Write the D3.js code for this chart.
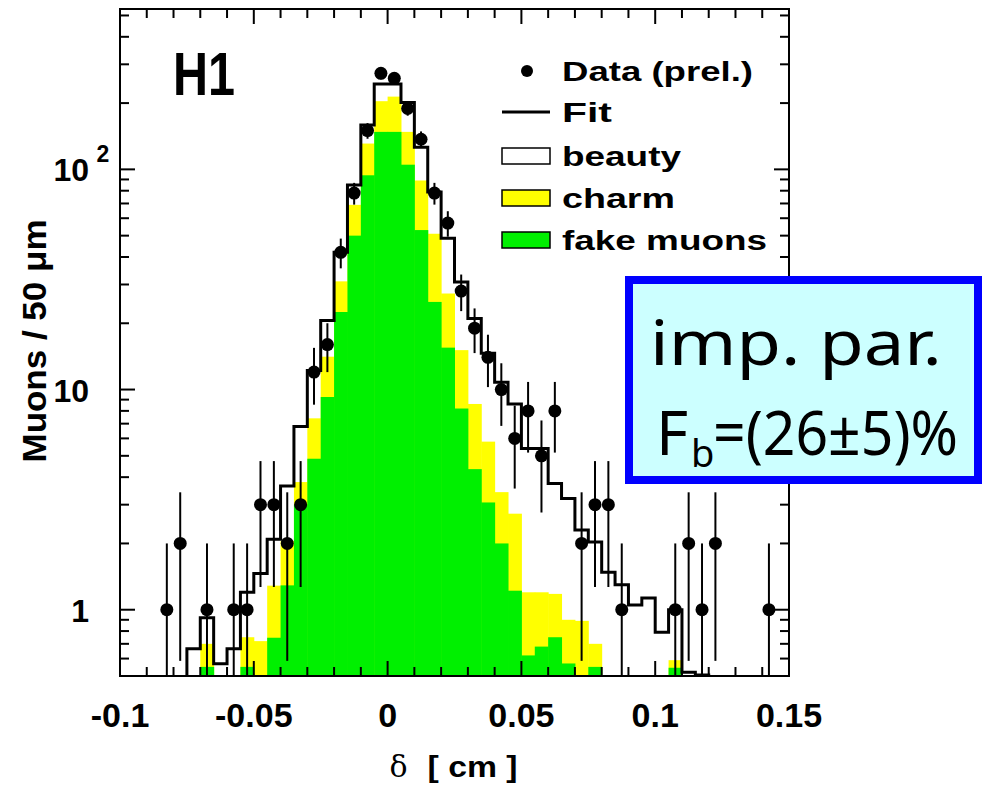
<!DOCTYPE html>
<html>
<head>
<meta charset="utf-8">
<script src="https://cdn.jsdelivr.net/npm/d3@7"></script>
<style>
  body { margin: 0; background: #fff; }
  svg { display: block; }
</style>
</head>
<body>
<div id="my_dataviz"></div>
<script>
// data (impact parameter, muons per 50 um bin)

// data points: bin centres [cm] and counts
var dataX = [-0.0825, -0.0775, -0.0675, -0.0575, -0.0525, -0.0475, -0.0425, -0.0375, -0.0325,
  -0.0275, -0.0225, -0.0175, -0.0125, -0.0075, -0.0025, 0.0025, 0.0075, 0.0125, 0.0175, 0.0225,
  0.0275, 0.0325, 0.0375, 0.0425, 0.0475, 0.0525, 0.0575, 0.0625, 0.0725, 0.0775, 0.0825, 0.0875,
  0.1075, 0.1125, 0.1175, 0.1225, 0.1425];
var dataN = [1, 2, 1, 1, 1, 3, 3, 2, 3,
  12, 16, 42, 78, 150, 273, 259, 189, 137, 78, 57,
  28, 19, 14, 10, 6, 8, 5, 8, 2, 3, 3, 1,
  1, 2, 1, 2, 1];

// histogram bins (low edge, width 0.005 cm)
var binLow = [-0.075, -0.07, -0.065, -0.06, -0.055, -0.05, -0.045, -0.04, -0.035, -0.03,
  -0.025, -0.02, -0.015, -0.01, -0.005, 0, 0.005, 0.01, 0.015, 0.02,
  0.025, 0.03, 0.035, 0.04, 0.045, 0.05, 0.055, 0.06, 0.065, 0.07,
  0.075, 0.08, 0.085, 0.09, 0.095, 0.1, 0.105, 0.11, 0.115];
var binWidth = 0.005;

// fit total (beauty + charm + fake)
var fitTotal = [0.665, 0.92, 0.568, 0.665, 1.2, 1.46, 2.09, 3.65, 6.8, 12.2,
  20.6, 42, 85, 159, 244, 244, 201, 126, 79, 48.6,
  30.8, 21, 14.6, 10.8, 8.6, 5.4, 5.4, 3.74, 3.2, 2.3,
  2.03, 1.48, 1.3, 1.05, 1.13, 0.79, 1.0, 0.52, 0.505];
// fake muons component
var fake = [0, 0.55, 0, 0, 0.55, 0, 0.746, 1.29, 3.0, 4.85,
  9.25, 22.5, 50, 94, 148, 148, 105, 53, 25, 15.5,
  8.2, 4.35, 3.07, 2.0, 1.22, 0.62, 0.68, 0.75, 0.57, 0,
  0.55, 0, 0, 0, 0, 0, 0.545, 0, 0];
// charm component (stacked on fake)
var charm = [0, 0.15, 0, 0, 0.2, 0.72, 0.54, 0.76, 0.8, 2.55,
  4.85, 8.5, 19, 37, 56, 66, 43, 36, 26, 11.8,
  6.9, 4.25, 2.73, 1.42, 1.51, 0.58, 0.52, 0.43, 0.33, 0.89,
  0.15, 0, 0, 0, 0, 0, 0.045, 0, 0];

var xTickLabels = ["-0.1", "-0.05", "0", "0.05", "0.1", "0.15"];
var legendLabels = ["Data (prel.)", "Fit", "beauty", "charm", "fake muons"];

// set the dimensions and margins of the graph
var margin = {top: 9, right: 194, bottom: 110, left: 120},
    width = 983 - margin.left - margin.right,
    height = 786 - margin.top - margin.bottom;

var font = "'Liberation Sans', Arial, Helvetica, sans-serif";

var root = d3.select("#my_dataviz")
  .append("svg")
    .attr("width", 983)
    .attr("height", 786);

var svg = root.append("g")
    .attr("transform", "translate(" + margin.left + "," + margin.top + ")");

var x = d3.scaleLinear()
  .domain([-0.1, 0.15])
  .range([0, width]);

var y = d3.scaleLog()
  .domain([0.5, 535])
  .range([height, 0])
  .clamp(true);

function yv(v) { return y(Math.max(v, 0.5)); }

// stacked fills: yellow = charm + fake, green = fake
var bins = binLow.map(function(lo, i) {
  return {lo: lo, hi: lo + binWidth, fit: fitTotal[i], fake: fake[i], charm: charm[i]};
});

svg.append("g")
  .selectAll("rect.charm")
  .data(bins)
  .enter()
  .append("rect")
    .attr("x", function(d) { return x(d.lo); })
    .attr("width", function(d) { return x(d.hi) - x(d.lo) + 0.5; })
    .attr("y", function(d) { return yv(d.fake + d.charm); })
    .attr("height", function(d) { return height - yv(d.fake + d.charm); })
    .style("fill", "#ffff00");

svg.append("g")
  .selectAll("rect.fake")
  .data(bins)
  .enter()
  .append("rect")
    .attr("x", function(d) { return x(d.lo); })
    .attr("width", function(d) { return x(d.hi) - x(d.lo) + 0.5; })
    .attr("y", function(d) { return yv(d.fake); })
    .attr("height", function(d) { return height - yv(d.fake); })
    .style("fill", "#00f000");

// fit histogram as a step outline
var pts = [[x(bins[0].lo), height]];
bins.forEach(function(d) {
  pts.push([x(d.lo), yv(d.fit)]);
  pts.push([x(d.hi), yv(d.fit)]);
});
pts.push([x(bins[bins.length - 1].hi), height]);

svg.append("path")
  .attr("d", d3.line()(pts))
  .style("fill", "none")
  .style("stroke", "#000")
  .style("stroke-width", 3)
  .style("stroke-linejoin", "miter");

// data points with sqrt(N) errors
var points = dataX.map(function(v, i) { return {x: v, n: dataN[i]}; });

svg.append("g")
  .selectAll("line")
  .data(points)
  .enter()
  .append("line")
    .attr("x1", function(d) { return x(d.x); })
    .attr("x2", function(d) { return x(d.x); })
    .attr("y1", function(d) { return yv(d.n + Math.sqrt(d.n)); })
    .attr("y2", function(d) { return yv(d.n - Math.sqrt(d.n)); })
    .style("stroke", "#000")
    .style("stroke-width", 2);

svg.append("g")
  .selectAll("circle")
  .data(points)
  .enter()
  .append("circle")
    .attr("cx", function(d) { return x(d.x); })
    .attr("cy", function(d) { return y(d.n); })
    .attr("r", 6.5)
    .style("fill", "#000");

// frame
svg.append("rect")
  .attr("x", 0)
  .attr("y", 0)
  .attr("width", width)
  .attr("height", height)
  .style("fill", "none")
  .style("stroke", "#000")
  .style("stroke-width", 2);

// x ticks (bottom and top, pointing in)
var xMinor = d3.range(-0.1, 0.1501, 0.01);
xMinor.forEach(function(v) {
  var major = Math.abs(Math.round(v * 20) - v * 20) < 1e-6;
  var len = major ? 15 : 9;
  svg.append("line")
    .attr("x1", x(v)).attr("x2", x(v))
    .attr("y1", height).attr("y2", height - len)
    .style("stroke", "#000").style("stroke-width", 2);
  svg.append("line")
    .attr("x1", x(v)).attr("x2", x(v))
    .attr("y1", 0).attr("y2", len)
    .style("stroke", "#000").style("stroke-width", 2);
});

// y ticks (left and right, pointing in)
y.ticks().forEach(function(v) {
  var lg = Math.log10(v);
  var major = Math.abs(lg - Math.round(lg)) < 1e-6;
  var len = major ? 15 : 9;
  svg.append("line")
    .attr("x1", 0).attr("x2", len)
    .attr("y1", y(v)).attr("y2", y(v))
    .style("stroke", "#000").style("stroke-width", 2);
  svg.append("line")
    .attr("x1", width).attr("x2", width - len)
    .attr("y1", y(v)).attr("y2", y(v))
    .style("stroke", "#000").style("stroke-width", 2);
});

// x tick labels
svg.append("g")
  .selectAll("text")
  .data(xTickLabels)
  .enter()
  .append("text")
    .attr("x", function(d) { return x(+d); })
    .attr("y", height + 51)
    .attr("text-anchor", "middle")
    .style("font-family", font)
    .style("font-weight", "bold")
    .style("font-size", "34px")
    .text(function(d) { return d; });

// y tick labels
[1, 10, 100].forEach(function(v) {
  svg.append("text")
    .attr("x", -31)
    .attr("y", y(v) + 12)
    .attr("text-anchor", "end")
    .style("font-family", font)
    .style("font-weight", "bold")
    .style("font-size", "32px")
    .text(v == 100 ? "10" : String(v));
});
svg.append("text")
  .attr("x", -17)
  .attr("y", y(100) - 7)
  .attr("text-anchor", "middle")
  .style("font-family", font)
  .style("font-weight", "bold")
  .style("font-size", "23px")
  .text("2");

// axis titles
svg.append("text")
  .attr("x", x(0) + 11)
  .attr("y", height + 101)
  .attr("text-anchor", "middle")
  .style("font-family", "'DejaVu Serif', serif")
  .style("font-size", "30px")
  .text("δ");
svg.append("text")
  .attr("x", x(0) + 40)
  .attr("y", height + 101)
  .attr("textLength", 90)
  .attr("lengthAdjust", "spacingAndGlyphs")
  .style("font-family", font)
  .style("font-weight", "bold")
  .style("font-size", "30px")
  .text("[ cm ]");

svg.append("text")
  .attr("transform", "translate(" + (-74) + "," + 332 + ") rotate(-90)")
  .attr("text-anchor", "middle")
  .attr("textLength", 243)
  .attr("lengthAdjust", "spacingAndGlyphs")
  .style("font-family", font)
  .style("font-weight", "bold")
  .style("font-size", "34px")
  .text("Muons / 50 μm");

// H1 label
svg.append("text")
  .attr("x", 53)
  .attr("y", 86)
  .attr("textLength", 62)
  .attr("lengthAdjust", "spacingAndGlyphs")
  .style("font-family", font)
  .style("font-weight", "bold")
  .style("font-size", "62px")
  .text("H1");

// legend
var lg = svg.append("g").attr("transform", "translate(" + 382 + "," + 0 + ")");
var rowY = [62, 103, 147, 189, 231];
var textLen = [191, 50, 119, 113, 205];
legendLabels.forEach(function(t, i) {
  lg.append("text")
    .attr("x", 60)
    .attr("y", rowY[i] + 10)
    .attr("textLength", textLen[i])
    .attr("lengthAdjust", "spacingAndGlyphs")
    .style("font-family", font)
    .style("font-weight", "bold")
    .style("font-size", "27px")
    .text(t);
});
lg.append("circle")
  .attr("cx", 25).attr("cy", rowY[0]).attr("r", 6)
  .style("fill", "#000");
lg.append("line")
  .attr("x1", 0).attr("x2", 48)
  .attr("y1", rowY[1]).attr("y2", rowY[1])
  .style("stroke", "#000").style("stroke-width", 3);
["#ffffff", "#ffff00", "#00f000"].forEach(function(c, i) {
  lg.append("rect")
    .attr("x", 0)
    .attr("y", rowY[i + 2] - 8)
    .attr("width", 48)
    .attr("height", 16)
    .style("fill", c)
    .style("stroke", "#000")
    .style("stroke-width", 1.5);
});

// result box
var box = root.append("g");
box.append("rect")
  .attr("x", 629)
  .attr("y", 280)
  .attr("width", 349)
  .attr("height", 200)
  .style("fill", "#ccffff")
  .style("stroke", "#0000ff")
  .style("stroke-width", 8);
box.append("text")
  .attr("x", 650)
  .attr("y", 365)
  .attr("textLength", 292)
  .attr("lengthAdjust", "spacingAndGlyphs")
  .style("font-family", "'Noto Sans', sans-serif")
  .style("font-size", "62px")
  .text("imp. par.");
box.append("text")
  .attr("x", 656)
  .attr("y", 455)
  .style("font-family", "'Noto Sans', sans-serif")
  .style("font-size", "62px")
  .text("F");
box.append("text")
  .attr("x", 691)
  .attr("y", 467)
  .style("font-family", "'Noto Sans', sans-serif")
  .style("font-size", "38px")
  .text("b");
box.append("text")
  .attr("x", 713)
  .attr("y", 455)
  .attr("textLength", 245)
  .attr("lengthAdjust", "spacingAndGlyphs")
  .style("font-family", "'Noto Sans', sans-serif")
  .style("font-size", "62px")
  .text("=(26±5)%");
</script>
</body>
</html>
